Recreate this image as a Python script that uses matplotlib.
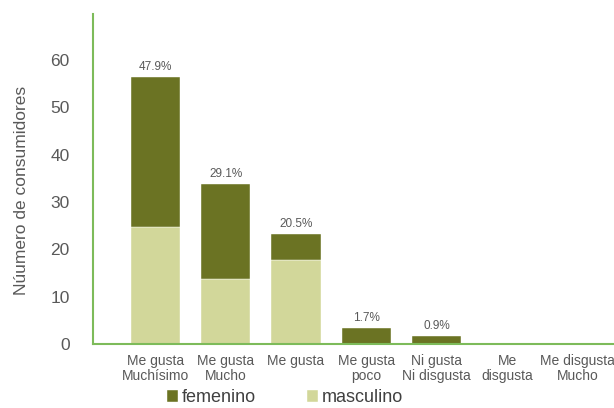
import matplotlib
matplotlib.use("Agg")
import matplotlib.pyplot as plt
import numpy as np

categories = ["Me gusta\nMuchísimo", "Me gusta\nMucho", "Me gusta", "Me gusta\npoco",
              "Ni gusta\nNi disgusta", "Me\ndisgusta", "Me disgusta\nMucho"]
masculino = [24.7, 13.7, 17.7, 0, 0, 0, 0]
femenino = [31.6, 20.0, 5.5, 3.3, 1.6, 0, 0]
pct_labels = ["47.9%", "29.1%", "20.5%", "1.7%", "0.9%", "", ""]
yticks = [0, 10, 20, 30, 40, 50, 60]

plt.rcParams['font.family'] = ['Liberation Sans', 'DejaVu Sans']

c_fem = "#6b7323"
c_mas = "#d2d79a"
c_spine = "#7dbb5a"
c_text = "#595959"

fig = plt.figure(figsize=(6.14, 4.08), dpi=100)
ax = fig.add_axes([93.3/614, 1 - 344/408, (614-93.3)/614, (344-14)/408])

x = np.arange(len(categories))
w = 0.7
ax.bar(x, masculino, w, color=c_mas, edgecolor="white", linewidth=0.3, label="masculino", zorder=2)
ax.bar(x, femenino, w, bottom=masculino, color=c_fem, edgecolor="white", linewidth=0.3, label="femenino", zorder=2)

for xi, m, f, t in zip(x, masculino, femenino, pct_labels):
    if t:
        ax.text(xi, m + f + 0.9, t, ha="center", va="bottom", fontsize=8.5, color=c_text)

ax.set_xlim(-0.88, 6.52)
ax.set_ylim(0, 69.7)
ax.set_yticks(yticks)
ax.set_yticklabels([str(v) for v in yticks], fontsize=12.5, color=c_text)
ax.set_xticks(x)
ax.set_xticklabels(categories, fontsize=10, color=c_text, linespacing=1.1)
ax.tick_params(axis="both", length=0)
ax.tick_params(axis="y", pad=17)
ax.tick_params(axis="x", pad=7)

for s in ["top", "right"]:
    ax.spines[s].set_visible(False)
for s in ["left", "bottom"]:
    ax.spines[s].set_color(c_spine)
    ax.spines[s].set_linewidth(1.5)

ax.set_ylabel("Núumero de consumidores", fontsize=12.5, color=c_text, va="center")
ax.yaxis.set_label_coords(-0.137, 0.465)

handles, labels = ax.get_legend_handles_labels()
leg = fig.legend(handles[::-1], labels[::-1], loc="center", bbox_to_anchor=(285/614, 1 - 398/408),
                 ncol=2, frameon=False, fontsize=13, handlelength=0.6, handleheight=0.6,
                 handletextpad=0.25, columnspacing=2.8, borderaxespad=0, borderpad=0)
for t in leg.get_texts():
    t.set_color("#404040")

fig.savefig("out.png", dpi=100)
